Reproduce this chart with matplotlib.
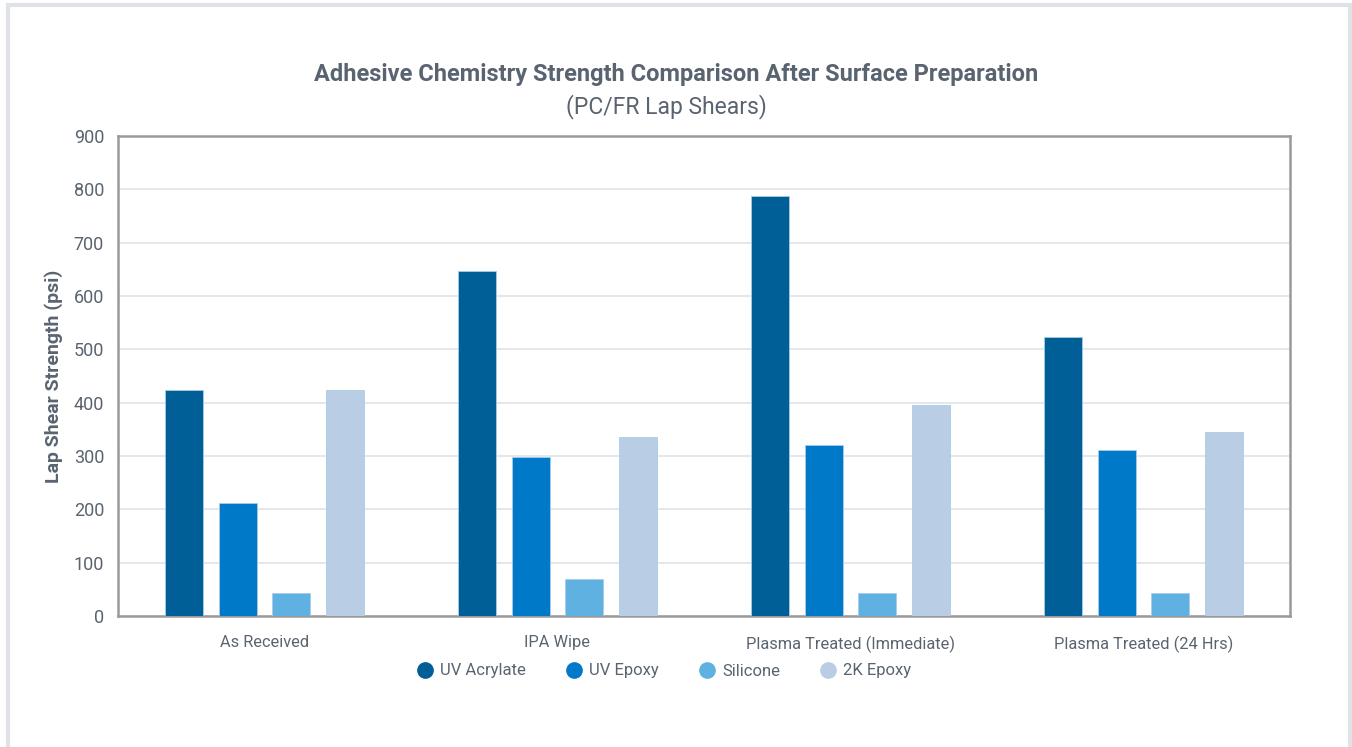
import matplotlib.pyplot as plt
import numpy as np
from matplotlib.patches import Rectangle
from matplotlib.lines import Line2D

plt.rcParams['font.family'] = ['Roboto', 'DejaVu Sans']

categories = ['As Received', 'IPA Wipe', 'Plasma Treated (Immediate)', 'Plasma Treated (24 Hrs)']
series = ['UV Acrylate', 'UV Epoxy', 'Silicone', '2K Epoxy']
uv_acrylate = [424, 647, 787, 523]
uv_epoxy = [212, 298, 321, 311]
silicone = [43, 69, 43, 43]
epoxy_2k = [424, 336, 396, 345]
colors = ['#005f96', '#0079c9', '#5eb1e0', '#b9cde4']
text_color = '#5a6470'

fig = plt.figure(figsize=(13.52, 7.47), dpi=100)
ax = fig.add_axes([118 / 1352, 1 - 616 / 747, 1172 / 1352, 480 / 747])

x = np.arange(len(categories))
width = 0.13
step = 0.183
for i, (vals, c) in enumerate(zip([uv_acrylate, uv_epoxy, silicone, epoxy_2k], colors)):
    ax.bar(x + (i - 1.5) * step, vals, width, color=c, edgecolor='#a9cbe6', linewidth=0.6,
           zorder=3, label=series[i])

ax.set_xlim(-0.5, 3.5)
ax.set_ylim(0, 900)
ax.set_yticks(np.arange(0, 901, 100))
ax.set_xticks(x)
ax.set_xticklabels(categories)
ax.yaxis.grid(True, color='#dfe4ea', linewidth=1.2, zorder=0)
ax.tick_params(axis='y', length=0, labelsize=13, colors=text_color, pad=10)
ax.tick_params(axis='x', length=0, labelsize=11.8, colors=text_color, pad=14)
for s in ax.spines.values():
    s.set_color('#9a9a9a')
    s.set_linewidth(1.8)

ax.set_ylabel('Lap Shear Strength (psi)', fontsize=14, fontweight='bold',
              color=text_color, labelpad=8)

fig.text(0.5, 1 - 75 / 747, 'Adhesive Chemistry Strength Comparison After Surface Preparation',
         ha='center', va='center', fontsize=17, fontweight='bold', color=text_color)
fig.text(0.493, 1 - 107 / 747, '(PC/FR Lap Shears)', ha='center', va='center',
         fontsize=16.5, color=text_color)

handles = [Line2D([], [], marker='o', linestyle='', markersize=11, color=c) for c in colors]
fig.legend(handles, series, loc='center', bbox_to_anchor=(0.491, 1 - 671 / 747), ncol=4,
           frameon=False, fontsize=12, handlelength=1.0, handletextpad=0.4,
           columnspacing=2.4, labelcolor=text_color)

# light card border
fig.patches.append(Rectangle((8 / 1352, -0.05), 1342 / 1352, 1.05 - 5 / 747,
                             transform=fig.transFigure, fill=False,
                             edgecolor='#dfe3e8', linewidth=3))

fig.savefig('out.png', dpi=100)
